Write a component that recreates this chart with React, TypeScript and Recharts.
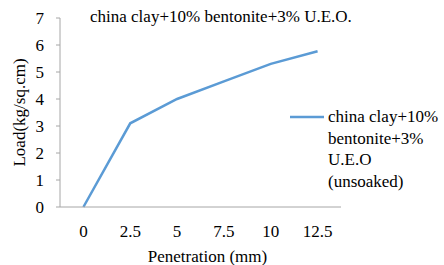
import { LineChart, Line, XAxis, YAxis, Label } from 'recharts'

const penetration = ['0', '2.5', '5', '7.5', '10', '12.5']
const load = [0, 3.1, 4.0, 4.65, 5.3, 5.77]
const yTicks = [0, 1, 2, 3, 4, 5, 6, 7]
const boundaryTicks = [0, 1, 2, 3, 4, 5, 6]
const title = 'china clay+10% bentonite+3% U.E.O.'
const legendLines = ['china clay+10%', 'bentonite+3%', 'U.E.O', '(unsoaked)']

const data = penetration.map((p, i) => ({ x: p, idx: i, load: load[i] }))

const FONT = 'Liberation Serif, Times New Roman, serif'
const FS = 17
const AXIS = '#a6a6a6'
const BLUE = '#5b9bd5'

function LegendBox() {
  return (
    <div style={{ position: 'absolute', left: 290, top: 106, display: 'flex', alignItems: 'flex-start', fontFamily: FONT, fontSize: FS, color: '#000', lineHeight: '21.5px' }}>
      <svg width={38} height={21} style={{ flex: 'none' }}>
        <line x1={0} y1={11} x2={34} y2={11} stroke={BLUE} strokeWidth={2.5} />
      </svg>
      <div>
        {legendLines.map(l => <div key={l}>{l}</div>)}
      </div>
    </div>
  )
}

export default function App() {
  return (
    <div style={{ position: 'absolute', left: 0, top: 0, width: 444, height: 265, background: '#fff' }}>
      <LineChart width={444} height={265} data={data} margin={{ top: 18, right: 103, bottom: 0, left: 0 }}>
        <XAxis
          xAxisId="grid"
          type="number"
          dataKey="idx"
          domain={[0, 6]}
          ticks={boundaryTicks}
          allowDataOverflow
          tick={false}
          axisLine={false}
          tickLine={{ stroke: AXIS }}
          tickSize={4}
          height={0}
        />
        <XAxis
          xAxisId="cat"
          dataKey="x"
          type="category"
          scale="band"
          interval={0}
          axisLine={{ stroke: AXIS }}
          tickLine={false}
          tickMargin={12}
          tick={{ fill: '#000', fontSize: FS, fontFamily: FONT }}
          height={58}
        >
          <Label value="Penetration (mm)" position="insideBottom" offset={3} dx={7} style={{ fill: '#000', fontSize: FS, fontFamily: FONT }} />
        </XAxis>
        <YAxis
          domain={[0, 7]}
          ticks={yTicks}
          interval={0}
          width={60}
          axisLine={{ stroke: AXIS }}
          tickLine={{ stroke: AXIS }}
          tickSize={4}
          tickMargin={12}
          tick={{ fill: '#000', fontSize: FS, fontFamily: FONT }}
        >
          <Label value="Load(kg/sq.cm)" angle={-90} position="insideLeft" offset={19} style={{ fill: '#000', fontSize: FS, fontFamily: FONT, textAnchor: 'middle' }} />
        </YAxis>
        <Line
          xAxisId="cat"
          type="linear"
          dataKey="load"
          name={legendLines.join(' ')}
          stroke={BLUE}
          strokeWidth={2.5}
          dot={false}
          isAnimationActive={false}
        />
      </LineChart>
      <LegendBox />
      <div style={{ position: 'absolute', left: 90, top: 7, fontFamily: FONT, fontSize: FS, color: '#000', whiteSpace: 'nowrap' }}>
        {title}
      </div>
    </div>
  )
}
